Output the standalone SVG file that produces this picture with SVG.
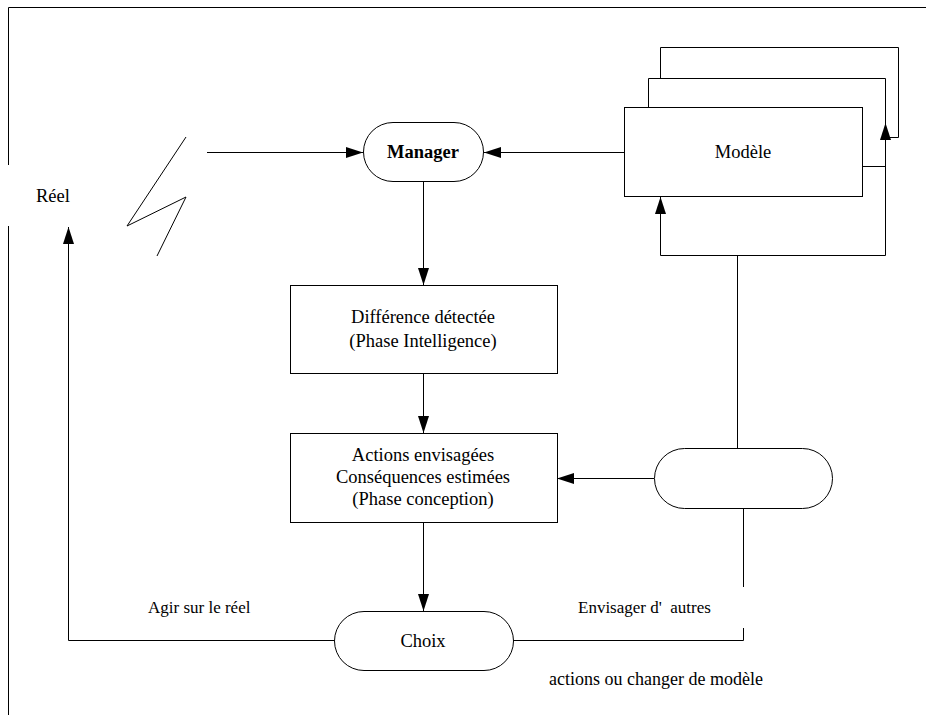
<svg xmlns="http://www.w3.org/2000/svg" width="926" height="715" viewBox="0 0 926 715">
<defs>
<marker id="ah" viewBox="0 0 17 11" refX="17" refY="5.5" markerWidth="17" markerHeight="11" orient="auto" markerUnits="userSpaceOnUse">
<path d="M0,0 L17,5.5 L0,11 z" fill="#000"/>
</marker>
</defs>
<style>
.ln{fill:none;stroke:#000;stroke-width:1}
.bx{fill:#fff;stroke:#000;stroke-width:1}
.c{text-anchor:middle}
.b{font-weight:bold}
</style>
<rect width="926" height="715" fill="#fff"/>
<g id="frame">
<polyline class="ln" points="8.5,165 8.5,7.5 926,7.5"/>
<line class="ln" x1="8.5" y1="226" x2="8.5" y2="715"/>
</g>
<g id="reel" font-family="'Liberation Serif', 'Times New Roman', serif" font-size="18.5">
<text x="36" y="202">Réel</text>
<polyline class="ln" points="186,137 127,226 186,197 157,256"/>
</g>
<g id="connectors">
<line class="ln" x1="207" y1="152.5" x2="363" y2="152.5" marker-end="url(#ah)"/>
<line class="ln" x1="624" y1="152.5" x2="484" y2="152.5" marker-end="url(#ah)"/>
<line class="ln" x1="423.5" y1="181" x2="423.5" y2="285" marker-end="url(#ah)"/>
<line class="ln" x1="423.5" y1="373" x2="423.5" y2="433" marker-end="url(#ah)"/>
<line class="ln" x1="423.5" y1="522" x2="423.5" y2="611" marker-end="url(#ah)"/>
<line class="ln" x1="654" y1="478.5" x2="557" y2="478.5" marker-end="url(#ah)"/>
<polyline class="ln" points="334,640.5 68.5,640.5 68.5,227" marker-end="url(#ah)"/>
<polyline class="ln" points="513,640.5 743.5,640.5 743.5,628"/>
<line class="ln" x1="743.5" y1="508" x2="743.5" y2="587"/>
<line class="ln" x1="737.5" y1="448" x2="737.5" y2="255.5"/>
<polyline class="ln" points="885.5,255.5 660.5,255.5 660.5,197" marker-end="url(#ah)"/>
<polyline class="ln" points="862,166.5 885.5,166.5"/>
<line class="ln" x1="885.5" y1="255.5" x2="885.5" y2="123" marker-end="url(#ah)"/>
</g>
<g id="modele" font-family="'Liberation Serif', 'Times New Roman', serif" font-size="18.5">
<polyline class="ln" points="660.5,78 660.5,47.5 898.5,47.5 898.5,137.5 885.5,137.5"/>
<polyline class="ln" points="648.5,107 648.5,78.5 885.5,78.5 885.5,123"/>
<rect class="bx" x="624.5" y="107.5" width="238" height="89"/>
<text class="c" x="743" y="158">Modèle</text>
</g>
<g id="manager" font-family="'Liberation Serif', 'Times New Roman', serif" font-size="18.5">
<rect class="bx" x="363.5" y="122.5" width="120" height="59" rx="29.5"/>
<text class="c b" x="423" y="158">Manager</text>
</g>
<g id="difference" font-family="'Liberation Serif', 'Times New Roman', serif" font-size="18.5">
<rect class="bx" x="290.5" y="285.5" width="267" height="88"/>
<text class="c" x="423" y="323">Différence détectée</text>
<text class="c" x="423" y="347">(Phase Intelligence)</text>
</g>
<g id="actions" font-family="'Liberation Serif', 'Times New Roman', serif" font-size="18.5">
<rect class="bx" x="290.5" y="433.5" width="267" height="89"/>
<text class="c" x="423" y="461">Actions envisagées</text>
<text class="c" x="423" y="483">Conséquences estimées</text>
<text class="c" x="423" y="505">(Phase conception)</text>
</g>
<g id="pill-right">
<rect class="bx" x="654.5" y="448.5" width="178" height="60" rx="30"/>
</g>
<g id="choix" font-family="'Liberation Serif', 'Times New Roman', serif" font-size="18.5">
<rect class="bx" x="334.5" y="611.5" width="179" height="59" rx="29.5"/>
<text class="c" x="423" y="647">Choix</text>
</g>
<g id="labels" font-family="'Liberation Serif', 'Times New Roman', serif" font-size="17">
<text x="148" y="613">Agir sur le réel</text>
<text x="578" y="613" xml:space="preserve">Envisager d'  autres</text>
<text x="549" y="685" font-size="18">actions ou changer de modèle</text>
</g>
</svg>
